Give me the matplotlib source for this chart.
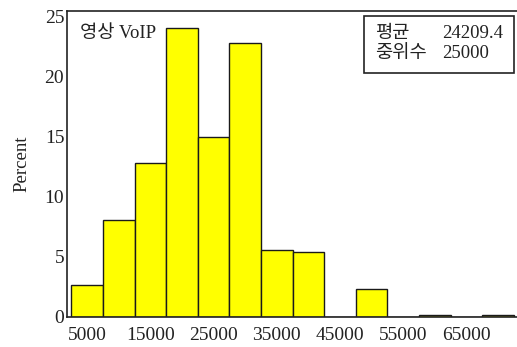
import numpy as np
import matplotlib
matplotlib.use("Agg")
import matplotlib.pyplot as plt

# 영상 VoIP 히스토그램 (구간 폭 5000)
bin_centers = [5000, 10000, 15000, 20000, 25000, 30000, 35000, 40000,
               45000, 50000, 55000, 60000, 65000, 70000]
percent = [2.7, 8.1, 12.8, 24.1, 15.0, 22.8, 5.6, 5.4,
           0.0, 2.3, 0.0, 0.2, 0.0, 0.2]
xticks = [5000, 15000, 25000, 35000, 45000, 55000, 65000]
yticks = [0, 5, 10, 15, 20, 25]
title_text = "영상 VoIP"
stats = [("평균", "24209.4"), ("중위수", "25000")]

fonts = ["Liberation Serif", "Noto Sans CJK KR"]
plt.rcParams["font.family"] = fonts

fig = plt.figure(figsize=(5.17, 3.47), dpi=100)
ax = fig.add_axes([0.1296, 0.0865, 0.8704, 0.8825])

ax.bar(bin_centers, percent, width=5000, color="#ffff00",
       edgecolor="#1a1a1a", linewidth=1.0)

ax.set_xlim(1800, 73000)
ax.set_ylim(0, 25.5)
ax.set_xticks(xticks)
ax.set_xticklabels([str(t) for t in xticks])
ax.set_yticks(yticks)
ax.tick_params(length=0, labelsize=14, colors="#222222")
ax.tick_params(axis="x", pad=7.5)
ax.tick_params(axis="y", pad=2)
ax.set_ylabel("Percent", fontsize=13.5, color="#222222", labelpad=10)

ax.spines["right"].set_visible(False)
for s in ["left", "bottom", "top"]:
    ax.spines[s].set_linewidth(1.2)
    ax.spines[s].set_color("#222222")

ax.text(0.028, 0.955, title_text, transform=ax.transAxes, fontsize=13.5,
        ha="left", va="top", color="#222222")

# 평균 / 중위수 상자
box = plt.Rectangle((0.66, 0.797), 0.333, 0.186, transform=ax.transAxes,
                    fill=False, edgecolor="#222222", linewidth=1.2)
ax.add_patch(box)
for i, (name, val) in enumerate(stats):
    y = 0.927 - i * 0.065
    ax.text(0.684, y, name, transform=ax.transAxes, fontsize=13.5,
            ha="left", va="center", color="#222222")
    ax.text(0.833, y, val, transform=ax.transAxes, fontsize=13.5,
            ha="left", va="center", color="#222222")

fig.savefig("out.png", dpi=100)
